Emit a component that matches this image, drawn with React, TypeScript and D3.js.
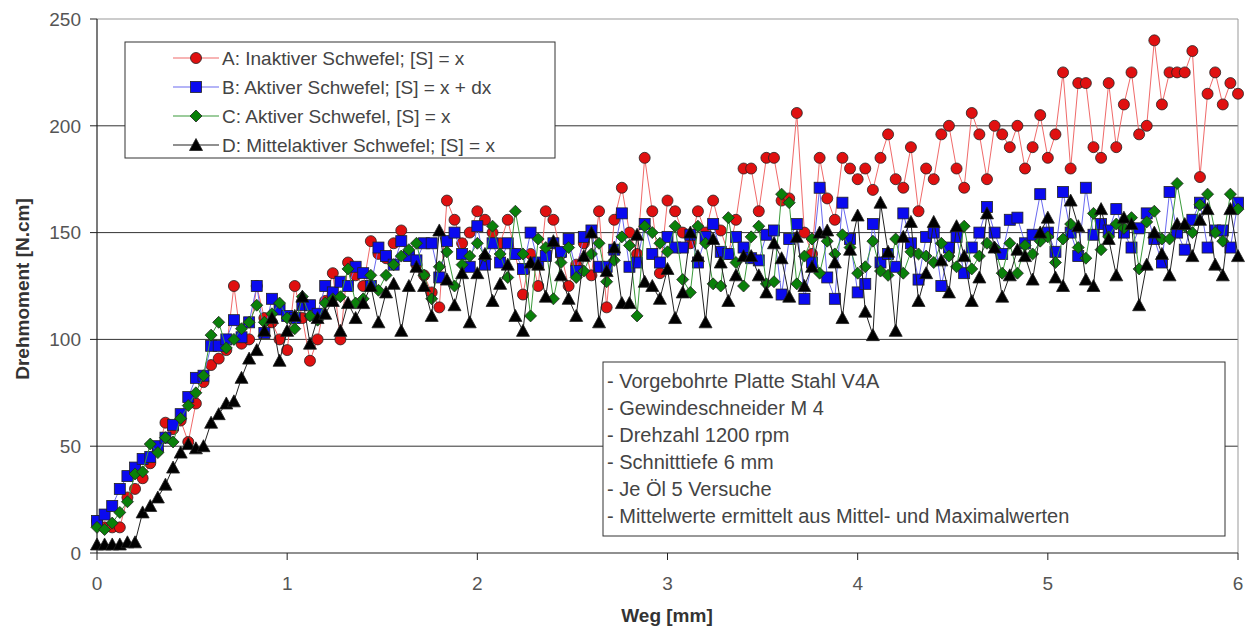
import React from 'react'
import * as d3 from 'd3'

// Weg [mm], Schrittweite 0.04
const weg = d3.range(151).map(i => +(i * 0.04).toFixed(2))

const serieA = [15, 12, 12, 12, 26, 30, 35, 42, 48, 61, 58, 62, 52, 70, 80, 88, 91, 95, 125, 98, 100, 125, 110, 108, 100, 95, 125, 110, 90, 100, 118, 131, 100, 136, 130, 125, 146, 140, 138, 145, 151, 140, 135, 130, 122, 115, 165, 156, 145, 150, 160, 156, 150, 145, 156, 140, 121, 140, 125, 160, 156, 140, 125, 135, 145, 130, 160, 115, 156, 171, 150, 140, 185, 160, 131, 165, 160, 150, 145, 160, 150, 165, 151, 140, 156, 180, 180, 160, 185, 185, 165, 166, 206, 150, 140, 185, 166, 156, 185, 180, 175, 180, 170, 185, 196, 175, 171, 190, 160, 180, 175, 196, 200, 180, 171, 206, 196, 175, 200, 196, 190, 200, 180, 190, 205, 185, 196, 225, 180, 220, 220, 190, 185, 220, 190, 210, 225, 196, 200, 240, 210, 225, 225, 225, 235, 176, 215, 225, 210, 220, 215]

const serieB = [15, 18, 22, 30, 36, 40, 44, 45, 50, 54, 60, 65, 73, 82, 83, 97, 97, 100, 109, 101, 108, 125, 103, 119, 114, 111, 110, 116, 116, 112, 125, 122, 127, 125, 134, 131, 125, 143, 139, 135, 146, 139, 137, 145, 145, 129, 146, 150, 140, 134, 153, 135, 145, 136, 145, 140, 133, 150, 136, 139, 145, 141, 147, 132, 148, 151, 134, 134, 142, 159, 134, 136, 154, 140, 136, 148, 143, 143, 149, 136, 148, 154, 141, 140, 148, 143, 138, 137, 149, 151, 121, 147, 154, 119, 136, 171, 129, 119, 164, 147, 122, 126, 154, 136, 140, 134, 159, 145, 128, 148, 150, 125, 143, 148, 131, 143, 150, 162, 150, 140, 156, 157, 145, 149, 168, 150, 141, 169, 150, 139, 171, 149, 154, 151, 161, 150, 143, 152, 159, 147, 136, 169, 150, 142, 156, 164, 143, 151, 151, 143, 164]

const serieC = [12, 11, 14, 19, 24, 37, 38, 51, 47, 54, 52, 63, 69, 75, 83, 102, 108, 96, 100, 105, 108, 116, 108, 112, 117, 110, 105, 120, 111, 109, 117, 119, 120, 133, 117, 119, 130, 123, 130, 135, 139, 142, 145, 130, 119, 134, 141, 125, 135, 139, 145, 139, 153, 140, 129, 160, 140, 111, 147, 143, 119, 136, 143, 129, 132, 140, 145, 127, 137, 148, 144, 111, 153, 150, 145, 141, 153, 128, 122, 153, 145, 126, 125, 157, 136, 125, 148, 153, 126, 127, 168, 164, 126, 139, 147, 131, 146, 140, 149, 143, 131, 134, 146, 132, 130, 147, 131, 141, 140, 139, 136, 145, 139, 134, 153, 133, 139, 145, 143, 131, 145, 131, 144, 140, 146, 148, 136, 147, 154, 143, 138, 159, 142, 148, 154, 152, 157, 133, 155, 160, 147, 147, 173, 153, 150, 163, 168, 150, 146, 168, 161]

const serieD = [4, 4, 4, 4, 5, 5, 19, 22, 26, 32, 40, 47, 51, 49, 50, 61, 65, 70, 71, 82, 91, 95, 104, 110, 90, 104, 111, 120, 98, 110, 112, 118, 104, 117, 110, 117, 125, 108, 122, 126, 104, 125, 134, 125, 111, 151, 128, 116, 131, 108, 131, 140, 118, 126, 135, 111, 104, 136, 135, 120, 146, 130, 119, 111, 139, 150, 108, 132, 143, 117, 117, 149, 127, 125, 119, 133, 110, 122, 150, 139, 108, 147, 136, 118, 130, 139, 139, 130, 122, 145, 138, 120, 148, 125, 134, 150, 151, 136, 110, 142, 158, 113, 102, 164, 141, 104, 148, 155, 118, 131, 155, 137, 122, 153, 139, 118, 129, 159, 143, 120, 130, 142, 139, 128, 150, 157, 129, 125, 165, 153, 128, 125, 161, 147, 130, 157, 154, 116, 135, 150, 140, 130, 154, 154, 139, 156, 161, 135, 130, 161, 139]

const legendLabels = [
  'A: Inaktiver Schwefel; [S] = x',
  'B: Aktiver Schwefel; [S] = x + dx',
  'C: Aktiver Schwefel, [S] = x',
  'D: Mittelaktiver Schwefel; [S] = x'
]

const notes = [
  '- Vorgebohrte Platte Stahl V4A',
  '- Gewindeschneider M 4',
  '- Drehzahl 1200 rpm',
  '- Schnitttiefe 6 mm',
  '- Je Öl 5 Versuche',
  '- Mittelwerte ermittelt aus Mittel- und Maximalwerten'
]

const xTicks = [0, 1, 2, 3, 4, 5, 6]
const yTicks = [0, 50, 100, 150, 200, 250]

const W = 1245
const H = 633
const plot = { left: 97, right: 1238, top: 19, bottom: 553 }
const font = 'Liberation Sans, Arial, sans-serif'

type MarkerKind = 'circle' | 'square' | 'diamond' | 'triangle'

const series: { values: number[]; line: string; fill: string; marker: MarkerKind }[] = [
  { values: serieA, line: '#f06a6a', fill: '#e01010', marker: 'circle' },
  { values: serieB, line: '#6a6af0', fill: '#0a0af0', marker: 'square' },
  { values: serieC, line: '#3a9a3a', fill: '#0a800a', marker: 'diamond' },
  { values: serieD, line: '#222', fill: '#000', marker: 'triangle' }
]

function Marker({ kind, x, y, fill }: { kind: MarkerKind; x: number; y: number; fill: string }) {
  const stroke = '#222'
  if (kind === 'circle') return <circle cx={x} cy={y} r={5.5} fill={fill} stroke={stroke} strokeWidth={0.8} />
  if (kind === 'square') return <rect x={x - 5.5} y={y - 5.5} width={11} height={11} fill={fill} stroke={stroke} strokeWidth={0.8} />
  if (kind === 'diamond')
    return <path d={`M${x},${y - 6}L${x + 6},${y}L${x},${y + 6}L${x - 6},${y}Z`} fill={fill} stroke={stroke} strokeWidth={0.8} />
  return <path d={`M${x},${y - 6.5}L${x + 6.5},${y + 5.5}L${x - 6.5},${y + 5.5}Z`} fill={fill} stroke={stroke} strokeWidth={0.8} />
}

export default function App() {
  const x = d3.scaleLinear().domain([0, 6]).range([plot.left, plot.right])
  const y = d3.scaleLinear().domain([0, 250]).range([plot.bottom, plot.top])

  const line = (vals: number[]) =>
    d3.line<number>().x((_, i) => x(weg[i])).y(d => y(d))(vals) || ''

  return (
    <div style={{ position: 'absolute', left: 0, top: 0 }}>
      <svg width={W} height={H} style={{ display: 'block', background: '#fff', fontFamily: font }}>
        {/* Gitter */}
        {yTicks.filter(t => t > 0 && t < 250).map(t => (
          <line key={t} x1={plot.left} x2={plot.right} y1={y(t)} y2={y(t)} stroke="#333" strokeWidth={1} />
        ))}
        <line x1={plot.left} x2={plot.right} y1={y(250)} y2={y(250)} stroke="#999" />
        <line x1={plot.right} x2={plot.right} y1={plot.top} y2={plot.bottom} stroke="#999" />

        {/* Achsen */}
        <line x1={plot.left} x2={plot.left} y1={plot.top} y2={plot.bottom} stroke="#222" strokeWidth={1.2} />
        <line x1={plot.left} x2={plot.right} y1={plot.bottom} y2={plot.bottom} stroke="#222" strokeWidth={1.2} />
        {yTicks.map(t => (
          <g key={t}>
            <line x1={plot.left - 7} x2={plot.left} y1={y(t)} y2={y(t)} stroke="#222" />
            <text x={plot.left - 16} y={y(t)} dy="0.36em" textAnchor="end" fontSize={19} fill="#555">{t}</text>
          </g>
        ))}
        {xTicks.map(t => (
          <g key={t}>
            <line x1={x(t)} x2={x(t)} y1={plot.bottom} y2={plot.bottom + 7} stroke="#222" />
            <text x={x(t)} y={590} textAnchor="middle" fontSize={19} fill="#555">{t}</text>
          </g>
        ))}
        <text x={667} y={622} textAnchor="middle" fontSize={19} fontWeight="bold" fill="#333">Weg [mm]</text>
        <text transform={`translate(29,${(plot.top + plot.bottom) / 2 + 3}) rotate(-90)`} textAnchor="middle" fontSize={19} fontWeight="bold" fill="#333">Drehmoment [N.cm]</text>

        {/* Kurven */}
        {series.map((s, si) => (
          <g key={si}>
            <path d={line(s.values)} fill="none" stroke={s.line} strokeWidth={1} />
            {s.values.map((v, i) => (
              <Marker key={i} kind={s.marker} x={x(weg[i])} y={y(v)} fill={s.fill} />
            ))}
          </g>
        ))}

        {/* Legende */}
        <rect x={125} y={42} width={430} height={116} fill="#fff" stroke="#333" strokeWidth={1} />
        {series.map((s, i) => {
          const ly = 58 + i * 29
          return (
            <g key={i}>
              <line x1={173} x2={219} y1={ly} y2={ly} stroke={s.line} strokeWidth={1.2} />
              <Marker kind={s.marker} x={196} y={ly} fill={s.fill} />
              <text x={222} y={ly} dy="0.36em" fontSize={19} fill="#444">{legendLabels[i]}</text>
            </g>
          )
        })}

        {/* Versuchsbedingungen */}
        <rect x={603} y={362} width={622} height={174} fill="#fff" stroke="#333" strokeWidth={1} />
        {notes.map((n, i) => (
          <text key={i} x={607} y={381 + i * 27} dy="0.36em" fontSize={20} fill="#444">{n}</text>
        ))}
      </svg>
    </div>
  )
}
